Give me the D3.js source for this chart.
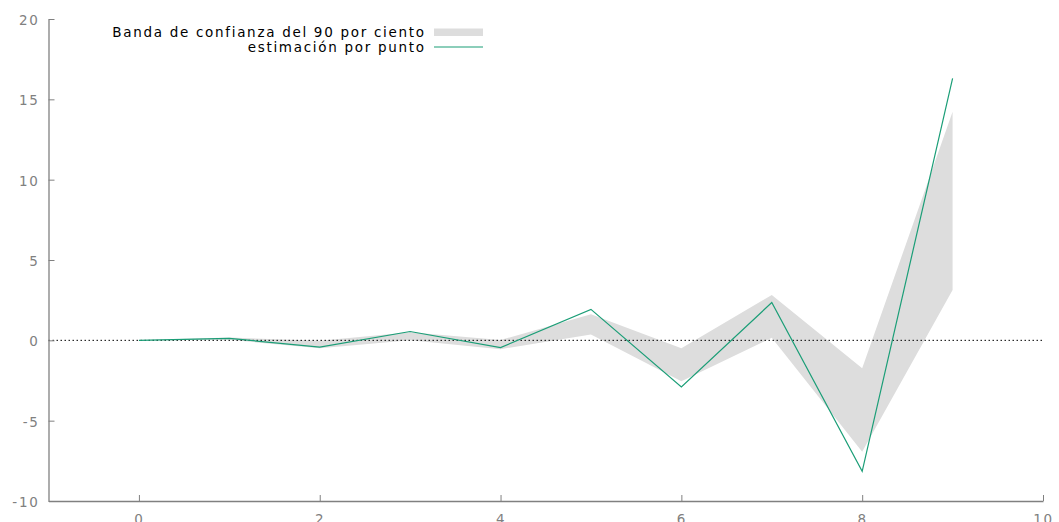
<!DOCTYPE html>
<html>
<head>
<meta charset="utf-8">
<script src="https://cdn.jsdelivr.net/npm/d3@7"></script>
<style>
  html, body { margin: 0; padding: 0; background: #fff; }
  svg { display: block; font-family: "DejaVu Sans", sans-serif; }
</style>
</head>
<body>
<svg id="chart" width="1059" height="522"></svg>
<script>
// Horizon (periods) and the impulse-response point estimate with its 90% band
const periods  = [0, 1, 2, 3, 4, 5, 6, 7, 8, 9];
const estimate = [0, 0.12, -0.42, 0.55, -0.45, 1.93, -2.9, 2.35, -8.15, 16.3];
const bandLow  = [0, 0.03, -0.5, 0.0, -0.55, 0.37, -2.55, 0.16, -6.93, 3.13];
const bandHigh = [0, 0.17, -0.02, 0.5, 0.02, 1.62, -0.5, 2.82, -1.74, 14.22];

const xTicks = [0, 2, 4, 6, 8, 10];
const yTicks = [-10, -5, 0, 5, 10, 15, 20];

const bandLabel = "Banda de confianza del 90 por ciento";
const lineLabel = "estimación por punto";

const lineColor = "#1b9e77";
const bandColor = "#dddddd";
const axisColor = "#808080";
const fontSize = "13.5px";
const spacing = 1.7;

const svg = d3.select("#chart");
const plotLeft = 48.5, plotRight = 1043, plotTop = 19, plotBottom = 501;

const x = d3.scaleLinear().domain([-1, 10]).range([plotLeft, plotRight]);
const y = d3.scaleLinear().domain([-10, 20]).range([plotBottom, plotTop]);

const rows = periods.map((p, i) => ({ p, v: estimate[i], lo: bandLow[i], hi: bandHigh[i] }));

// confidence band
svg.append("path")
  .datum(rows)
  .attr("fill", bandColor)
  .attr("d", d3.area().x(d => x(d.p)).y0(d => y(d.lo)).y1(d => y(d.hi)));

// zero reference line
svg.append("line")
  .attr("x1", x(-1)).attr("x2", x(10))
  .attr("y1", y(0)).attr("y2", y(0))
  .attr("stroke", "#000").attr("stroke-width", 1)
  .attr("stroke-dasharray", "1.5,2.5");

// point estimate
svg.append("path")
  .datum(rows)
  .attr("fill", "none")
  .attr("stroke", lineColor)
  .attr("stroke-width", 1.2)
  .attr("d", d3.line().x(d => x(d.p)).y(d => y(d.v)));

// axes (ticks drawn inward, gnuplot style)
const plain = d => String(d);
const xAxis = svg.append("g")
  .attr("transform", `translate(0,${plotBottom})`)
  .call(d3.axisBottom(x).tickValues(xTicks).tickFormat(plain)
    .tickSizeInner(-6).tickSizeOuter(0).tickPadding(13));
const yAxis = svg.append("g")
  .attr("transform", `translate(${plotLeft},0)`)
  .call(d3.axisLeft(y).tickValues(yTicks).tickFormat(plain)
    .tickSizeInner(-6).tickSizeOuter(0).tickPadding(9));

[xAxis, yAxis].forEach(g => {
  g.select(".domain").attr("stroke", axisColor).attr("stroke-width", 1.3);
  g.selectAll(".tick line").attr("stroke", axisColor).attr("stroke-width", 1);
  g.selectAll(".tick text")
    .attr("fill", axisColor)
    .style("font-family", "'DejaVu Sans', sans-serif")
    .style("font-size", fontSize)
    .style("letter-spacing", spacing + "px");
});
yAxis.selectAll(".tick text").attr("dy", "0.4em");

// legend
const legend = svg.append("g").style("font-size", fontSize).style("letter-spacing", spacing + "px");
const lx = 424 + spacing, swX = 434, swW = 49;
legend.append("text").attr("x", lx).attr("y", 32).attr("dy", "0.35em")
  .attr("text-anchor", "end").attr("fill", "#000").text(bandLabel);
legend.append("rect").attr("x", swX).attr("y", 28.5).attr("width", swW).attr("height", 7.5)
  .attr("fill", bandColor);
legend.append("text").attr("x", lx).attr("y", 47).attr("dy", "0.35em")
  .attr("text-anchor", "end").attr("fill", "#000").text(lineLabel);
legend.append("line").attr("x1", swX).attr("x2", swX + swW).attr("y1", 47).attr("y2", 47)
  .attr("stroke", lineColor).attr("stroke-width", 1.2);
</script>
</body>
</html>
